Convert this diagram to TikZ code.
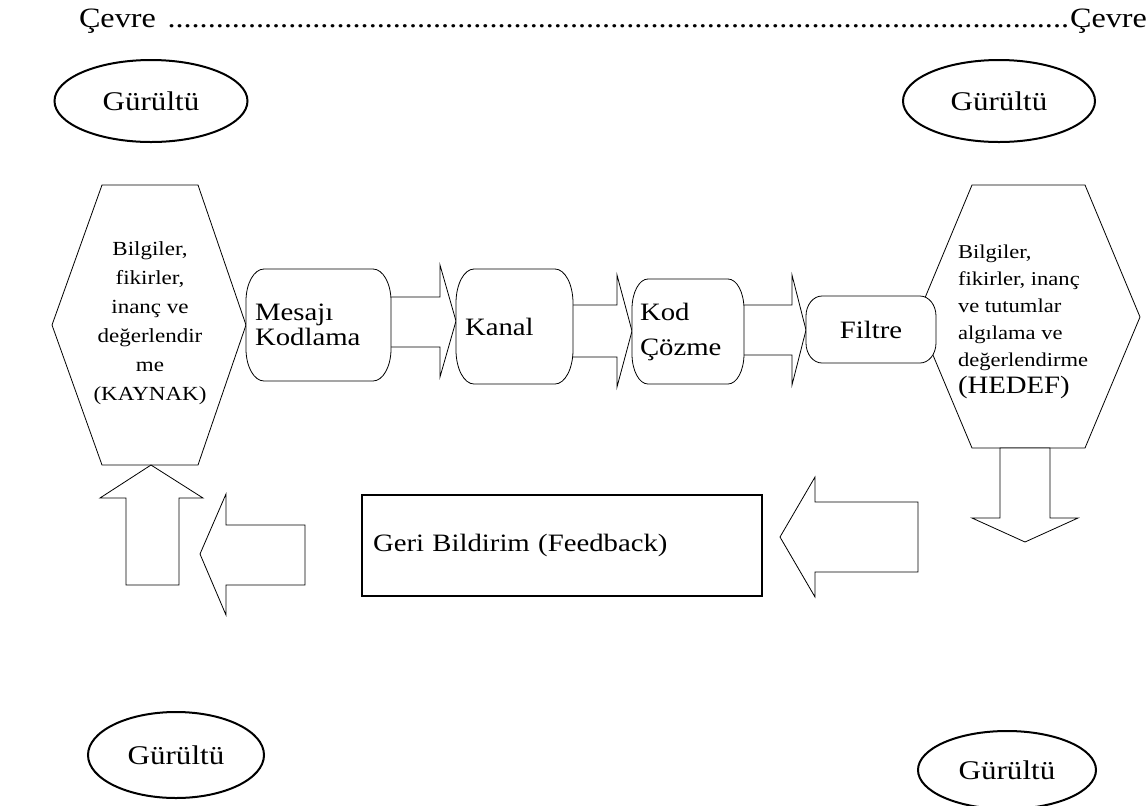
\documentclass[tikz,border=0pt]{standalone}
\usepackage{fontspec}
\setmainfont{Liberation Serif}[FakeStretch=1.15]
\usetikzlibrary{shapes.geometric}
\usetikzlibrary{calc,backgrounds}

% frame with oval corners round a node: name, x radius, y radius
\newcommand{\ovalframe}[3]{%
 \draw[fill=white] ([xshift=#2]#1.north west) -- ([xshift=-#2]#1.north east)
   arc[start angle=90,end angle=0,x radius=#2,y radius=#3]
   -- ([yshift=#3]#1.south east)
   arc[start angle=0,end angle=-90,x radius=#2,y radius=#3]
   -- ([xshift=#2]#1.south west)
   arc[start angle=270,end angle=180,x radius=#2,y radius=#3]
   -- ([yshift=-#3]#1.north west)
   arc[start angle=180,end angle=90,x radius=#2,y radius=#3] -- cycle;}

\begin{document}
\begin{tikzpicture}[x=0.5pt, y=-0.5pt, line width=1pt,
  noise/.style={ellipse, draw, fill=white, font=\fontsize{13.5}{15}\selectfont},
  stage/.style={rectangle, inner ysep=0pt, align=left, font=\fontsize{12.5}{12.5}\selectfont},
  blk/.style={draw, fill=white}]
\useasboundingbox (0,0) rectangle (1147,805);

% environment line
\node[anchor=base west, inner sep=0, font=\fontsize{14}{16}\selectfont] (cevre) at (78,27)
  {\hbox to 534pt{Çevre \leaders\hbox{.}\hfill Çevre}};

% noise
\node[noise, minimum width=96.5pt, minimum height=41pt] (g1) at (151,101) {Gürültü};
\node[noise, minimum width=96pt, minimum height=41pt] (g2) at (999,101) {Gürültü};
\node[noise, minimum width=88pt, minimum height=43pt] (g3) at (176,755) {Gürültü};
\node[noise, minimum width=89pt, minimum height=39pt] (g4) at (1007,770) {Gürültü};

% source and target
\node[align=center, font=\fontsize{10}{14.5}\selectfont] (kaynak) at (150,323)
  {Bilgiler,\\fikirler,\\inanç ve\\değerlendir\\me\\(KAYNAK)};
\node[anchor=west, align=left, inner sep=0, font=\fontsize{9.8}{13.5}\selectfont] (hedef) at (957,322)
  {Bilgiler,\\fikirler, inanç\\ve tutumlar\\algılama ve\\değerlendirme\\{\fontsize{12.5}{18}\selectfont (HEDEF)}};

% stages
\node[stage, text width=63.5pt, inner xsep=4pt, minimum height=55pt] (mk) at (318.5,325) {Mesajı\\Kodlama};
\node[stage, text width=49.5pt, inner xsep=4pt, minimum height=56.5pt] (kanal) at (514.5,326.5) {Kanal};
\node[stage, text width=48pt, inner xsep=3.5pt, minimum height=51.5pt, font=\fontsize{12.5}{17.5}\selectfont] (kod) at (688,331.5) {Kod\\Çözme};
\node[stage, align=center, minimum width=64pt, minimum height=32.5pt] (filtre) at (871,329.5) {Filtre};
\node[stage, draw, text width=189pt, inner xsep=5.5pt, minimum height=50.5pt] (geri) at (562,545.5) {Geri Bildirim (Feedback)};

\begin{pgfonlayer}{background}
% hexagons
\draw (52,325) -- (102,185) -- (198,185) -- (246,325) -- (198,465) -- (102,465) -- cycle;
\draw (917,317) -- (972,185) -- (1085,185) -- (1140,317) -- (1085,448) -- (972,448) -- cycle;
% forward arrows
\draw[blk] (380,297) -- (440,297) -- (440,265) -- (kanal.west |- 0,321) -- (440,377) -- (440,347) -- (380,347) -- cycle;
\draw[blk] (565,305) -- (617,305) -- (617,275) -- (kod.west |- 0,331) -- (617,387) -- (617,357) -- (565,357) -- cycle;
\draw[blk] (735,305) -- (792,305) -- (792,275) -- (filtre.west |- 0,330) -- (792,385) -- (792,355) -- (735,355) -- cycle;
% feedback arrows
\draw[blk] (1000,448) -- (1000,518) -- (972,518) -- (1025,542) -- (1078,518) -- (1050,518) -- (1050,448) -- cycle;
\draw[blk] (918,502) -- (815,502) -- (815,477) -- (780,537) -- (815,597) -- (815,572) -- (918,572) -- cycle;
\draw[blk] (305,525) -- (226,525) -- (226,494) -- (200,554) -- (226,615) -- (226,585) -- (305,585) -- cycle;
\draw[blk] (126,585) -- (126,498) -- (100,498) -- (151,465) -- (203,498) -- (179,498) -- (179,585) -- cycle;
% stage frames
\ovalframe{mk}{9pt}{16pt}
\ovalframe{kanal}{9pt}{17pt}
\ovalframe{kod}{8pt}{15pt}
\ovalframe{filtre}{8pt}{10pt}
\end{pgfonlayer}
\end{tikzpicture}
\end{document}
